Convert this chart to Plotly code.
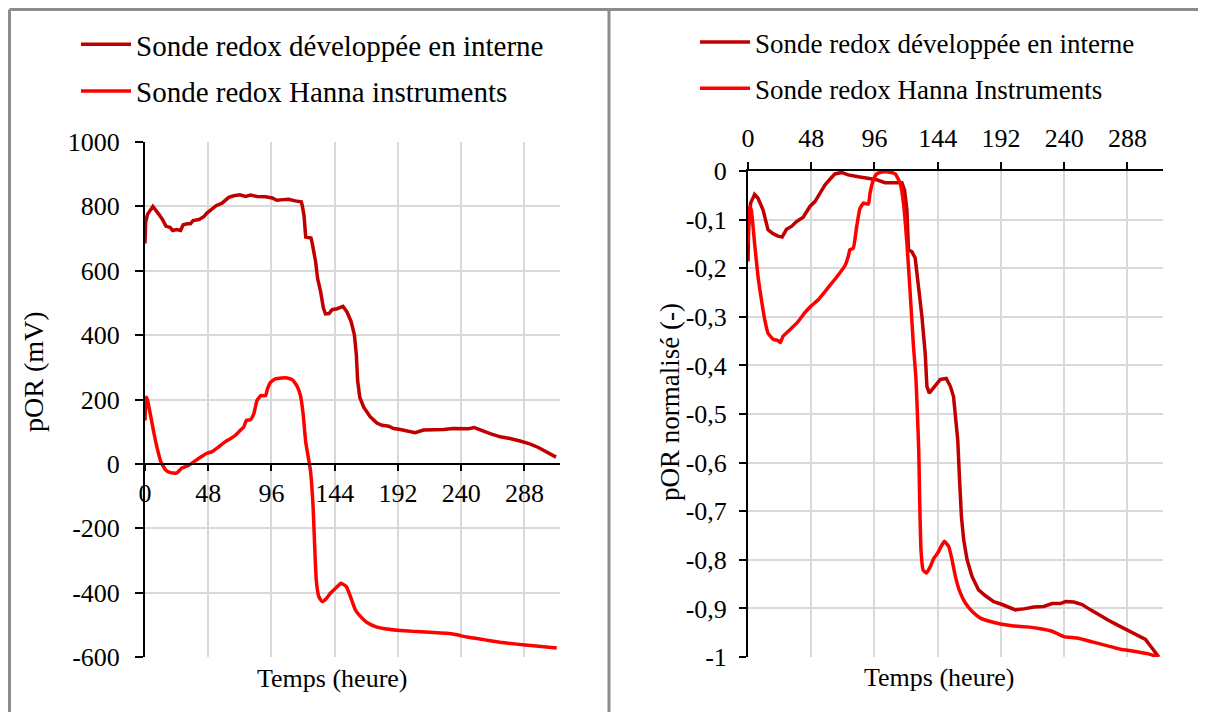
import plotly.graph_objects as go

# ---------------- data ----------------
# Left panel: pOR (mV) vs time (h)
t_interne_mv = [0, 0.5, 2, 6, 10.4, 13, 16, 19, 21, 24, 27, 29, 32, 34.5, 36.5, 41, 44.6, 47, 51, 54,
                58.5, 61, 63.6, 67.4, 72, 76.3, 80, 85, 91.5, 96.6, 100, 105, 109, 114, 118.6, 119.4, 120.7,
                122, 126, 127, 129.5, 131, 133.3, 135.4, 137, 139.7, 142, 145.8, 150.3, 153.3, 156.4, 158.9,
                160.4, 161.4, 163, 166, 171, 176, 179.9, 185, 188.7, 193.8, 198.8, 205, 211.5, 219, 226.6,
                234, 240.5, 245.6, 249.9, 254.4, 262, 269.6, 277, 284.7, 292, 298.6, 305, 309.5, 312]
por_interne_mv = [685, 751, 776, 800, 776, 761, 738, 735, 725, 728, 725, 743, 746, 746, 756, 759, 768, 779, 792, 802,
                  810, 820, 828, 833, 836, 831, 835, 831, 830, 826, 819, 821, 822, 817, 814, 802, 771,
                  705, 702, 684, 628, 576, 535, 484, 466, 467, 479, 482, 489, 472, 443, 402,
                  340, 258, 207, 176, 146, 127, 120, 117, 110, 107, 103, 97, 105, 105, 107,
                  110, 110, 109, 113, 105, 94, 84, 79, 71, 62, 51, 38, 28, 21]

t_hanna_mv = [0, 1, 2, 4, 6.6, 9, 12, 15.5, 19.3, 23.8, 28, 33, 38, 43, 47, 51, 56, 61, 65, 68.7, 72.5,
              75, 77, 80, 82.6, 85, 88, 91.5, 93, 95.3, 99, 104, 108, 112, 115.6, 118, 120, 122, 125.6,
              127.6, 128.6, 130, 131.9, 134.4, 137.7, 140.7, 144.5, 148.8, 152.8, 155.9, 159.7, 163.5,
              168.5, 176, 183.7, 193.8, 206.4, 219, 229, 236.7, 244.3, 257, 269.6, 282, 294.8, 312.5]
por_hanna_mv = [135, 207, 197, 156, 99, 53, 7, -18, -27, -29, -13, -5, 9, 23, 33, 38, 53, 69, 79, 89, 105,
                115, 135, 137, 156, 197, 212, 212, 233, 253, 264, 267, 267, 261, 240, 212, 156, 68, -21,
                -134, -237, -361, -412, -428, -418, -402, -387, -371, -381, -412, -454, -474,
                -493, -507, -513, -518, -521, -524, -526, -531, -538, -546, -554, -560, -565, -572]

# Right panel: normalised pOR (-) vs time (h)
t_interne_norm = [0, 0.5, 2, 5, 7.6, 11.4, 15.2, 19, 22.8, 25.9, 29.2, 33, 36.8, 41.9, 47, 50.8, 54.6, 58.4,
                  62.2, 66, 71, 76, 83.8, 91.4, 97.7, 104, 111.7, 116.8, 118.8, 120.6, 121.8, 124.4, 126.9,
                  129.4, 132, 134.5, 135.8, 137.6, 140.9, 146, 150.5, 153.6, 156, 157.4, 159.2, 160.7, 162,
                  163.7, 166.3, 170, 175, 180.2, 186.5, 192.9, 199.2, 203, 209.3, 217, 224.5, 230.8, 237.2,
                  241, 247.3, 253.6, 260, 267.5, 273.9, 280.2, 287.8, 295.4, 301.7, 306.8, 311.8]
por_interne_norm = [-0.186, -0.114, -0.066, -0.048, -0.056, -0.080, -0.121, -0.129, -0.134, -0.136, -0.120,
                    -0.114, -0.104, -0.095, -0.073, -0.063, -0.046, -0.029,
                    -0.017, -0.006, -0.003, -0.008, -0.012, -0.015, -0.018, -0.024, -0.024, -0.024, -0.039,
                    -0.080, -0.162, -0.166, -0.179,
                    -0.238, -0.299, -0.375, -0.443, -0.457, -0.447, -0.429, -0.427, -0.443, -0.464, -0.505,
                    -0.553, -0.642, -0.711,
                    -0.759, -0.800, -0.834, -0.862, -0.874, -0.886, -0.892, -0.899, -0.903, -0.901, -0.897,
                    -0.896, -0.890, -0.890,
                    -0.886, -0.887, -0.892, -0.903, -0.916, -0.925, -0.934, -0.944, -0.954, -0.964, -0.982, -1.0]

t_hanna_norm = [0, 1.3, 2.5, 5, 7.6, 10.2, 12.7, 15.2, 19, 22.8, 24.6, 26.6, 31.7, 38, 43, 48.2, 53.3, 58.4,
                63.5, 68.5, 73.6, 76.1, 77.4, 79.9, 82.5, 85, 87.6, 91.4, 92.6, 95.2, 97.7, 101.5, 106.6,
                111.7, 115.5, 118, 120.6, 123.1, 125.6, 127.4, 128.3, 129.6, 130.3, 131.3, 132.9, 135.4,
                138.4, 141, 144, 146.5, 149, 152.4, 154.9, 157.4, 160.7, 165, 170, 176.4, 184, 191.6,
                201.7, 211.8, 222, 230.8, 239.7, 249.8, 260, 270, 282.7, 292.9, 303, 311.8]
por_hanna_norm = [-0.15, -0.073, -0.080, -0.149, -0.217, -0.265, -0.306, -0.334, -0.346, -0.349, -0.353,
                  -0.340, -0.327, -0.310, -0.292, -0.277, -0.265, -0.248,
                  -0.231, -0.214, -0.195, -0.176, -0.162, -0.159, -0.114, -0.077, -0.066, -0.068, -0.046,
                  -0.018, -0.006, -0.002, -0.002,
                  -0.006, -0.025, -0.066, -0.148, -0.251, -0.361, -0.423, -0.48, -0.574, -0.677, -0.779,
                  -0.821, -0.827,
                  -0.814, -0.797, -0.786, -0.773, -0.762, -0.773, -0.800, -0.834, -0.865, -0.889, -0.906,
                  -0.920, -0.927, -0.932,
                  -0.936, -0.938, -0.942, -0.947, -0.958, -0.961, -0.968, -0.975, -0.984, -0.988, -0.993, -1.0]

x_ticks = [0, 48, 96, 144, 192, 240, 288]
x_ticklabels = ["0", "48", "96", "144", "192", "240", "288"]
y_ticks_mv = [-600, -400, -200, 0, 200, 400, 600, 800, 1000]
y_ticklabels_mv = ["-600", "-400", "-200", "0", "200", "400", "600", "800", "1000"]
y_ticks_norm = [0, -0.1, -0.2, -0.3, -0.4, -0.5, -0.6, -0.7, -0.8, -0.9, -1]
y_ticklabels_norm = ["0", "-0,1", "-0,2", "-0,3", "-0,4", "-0,5", "-0,6", "-0,7", "-0,8", "-0,9", "-1"]

name_interne = "Sonde redox développée en interne"
name_hanna_left = "Sonde redox Hanna instruments"
name_hanna_right = "Sonde redox Hanna Instruments"

# ---------------- figure ----------------
# the page body has an 8 px margin: the figure is sized to fit the 1206x720 window
OFF = 8
W, H = 1206 - 2 * OFF, 720 - 2 * OFF
FONT = "Liberation Serif, Times New Roman, serif"
DARK = "#C00000"
RED = "#FF0000"
GRID = "#d9d9d9"


def fx(p):  # page pixel -> paper fraction
    return (p - OFF) / W


def fy(p):
    return 1 - (p - OFF) / H


fig = go.Figure()
fig.add_trace(go.Scatter(x=t_interne_mv, y=por_interne_mv, mode="lines", name=name_interne,
                         line=dict(color=DARK, width=3.5), xaxis="x", yaxis="y",
                         legend="legend", legendgroup="a"))
fig.add_trace(go.Scatter(x=t_hanna_mv, y=por_hanna_mv, mode="lines", name=name_hanna_left,
                         line=dict(color=RED, width=3.5, shape="spline", smoothing=0.4),
                         xaxis="x", yaxis="y", legend="legend", legendgroup="b"))
fig.add_trace(go.Scatter(x=t_interne_norm, y=por_interne_norm, mode="lines", name=name_interne,
                         line=dict(color=DARK, width=3.5), xaxis="x2", yaxis="y2",
                         legend="legend2", legendgroup="c"))
fig.add_trace(go.Scatter(x=t_hanna_norm, y=por_hanna_norm, mode="lines", name=name_hanna_right,
                         line=dict(color=RED, width=3.5, shape="spline", smoothing=0.4),
                         xaxis="x2", yaxis="y2", legend="legend2", legendgroup="d"))

tickfont = dict(family=FONT, size=26, color="black")
y0_pos = fy(142 + 1000 / 1600 * (657 - 142))

common_axis = dict(showgrid=True, gridcolor=GRID, gridwidth=1.5, zeroline=False,
                   showline=True, linecolor="black", linewidth=2,
                   ticks="outside", tickwidth=2, tickcolor="black",
                   tickfont=tickfont, fixedrange=True, automargin=False)

fig.update_layout(
    template="none",
    width=W, height=H,
    margin=dict(l=0, r=0, t=0, b=0, pad=0, autoexpand=False),
    paper_bgcolor="white", plot_bgcolor="white",
    font=dict(family=FONT, color="black"),
    xaxis=dict(domain=[fx(145), fx(560)], range=[0, 315], tickvals=x_ticks, ticktext=x_ticklabels,
               ticklen=6, anchor="free", position=y0_pos, **common_axis),
    yaxis=dict(domain=[fy(657), fy(142)], range=[-600, 1000], tickvals=y_ticks_mv, ticktext=y_ticklabels_mv,
               ticklen=8, anchor="x", ticklabelstandoff=10, **common_axis),
    xaxis2=dict(domain=[fx(748), fx(1163)], range=[0, 315], tickvals=x_ticks, ticktext=x_ticklabels,
                side="top", ticklen=7, anchor="y2", ticklabelstandoff=5, **common_axis),
    yaxis2=dict(domain=[fy(657), fy(171)], range=[-1, 0], tickvals=y_ticks_norm, ticktext=y_ticklabels_norm,
                ticklen=7, anchor="x2", ticklabelstandoff=7, **common_axis),
    legend=dict(x=fx(76), y=fy(19), xanchor="left", yanchor="top", bgcolor="rgba(0,0,0,0)",
                font=dict(family=FONT, size=29, color="black"), itemwidth=50, borderwidth=0,
                tracegroupgap=6, traceorder="grouped"),
    legend2=dict(x=fx(695), y=fy(18), xanchor="left", yanchor="top", bgcolor="rgba(0,0,0,0)",
                 font=dict(family=FONT, size=27, color="black"), itemwidth=50, borderwidth=0,
                 tracegroupgap=8, traceorder="grouped"),
    showlegend=True,
)

ann = dict(xref="paper", yref="paper", showarrow=False, xanchor="center", yanchor="middle")
fig.add_annotation(text="pOR (mV)", x=fx(33), y=fy(372), textangle=-90,
                   font=dict(family=FONT, size=28, color="black"), **ann)
fig.add_annotation(text="pOR normalisé (-)", x=fx(670), y=fy(402), textangle=-90,
                   font=dict(family=FONT, size=27, color="black"), **ann)
fig.add_annotation(text="Temps (heure)", x=fx(332), y=fy(678),
                   font=dict(family=FONT, size=26, color="black"), **ann)
fig.add_annotation(text="Temps (heure)", x=fx(939), y=fy(677),
                   font=dict(family=FONT, size=26, color="black"), **ann)

# panel frames (kept just inside the drawable area)
frame = dict(color="#8c8c8c", width=3)
fig.add_shape(type="line", xref="paper", yref="paper", x0=fx(9.5), x1=1, y0=fy(9.5), y1=fy(9.5), line=frame)
fig.add_shape(type="line", xref="paper", yref="paper", x0=fx(9.5), x1=fx(9.5), y0=fy(9.5), y1=0, line=frame)
fig.add_shape(type="line", xref="paper", yref="paper", x0=fx(609), x1=fx(609), y0=fy(9.5), y1=0, line=frame)

fig.write_html("out.html")
